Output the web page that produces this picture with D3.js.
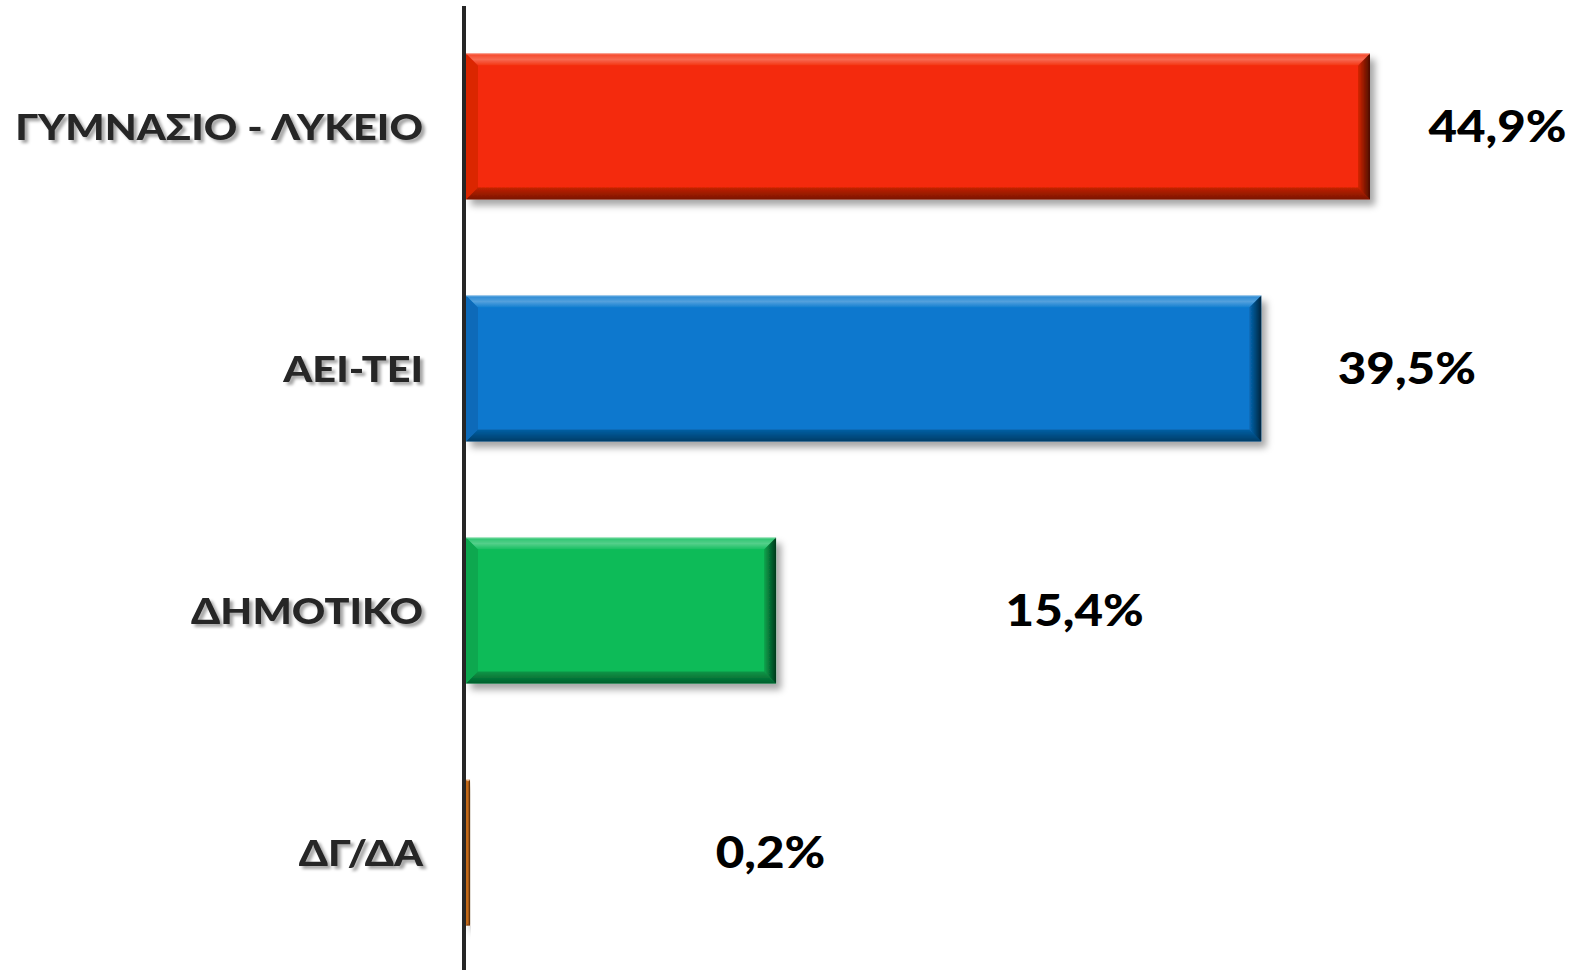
<!DOCTYPE html>
<html><head><meta charset="utf-8">
<script src="https://cdn.jsdelivr.net/npm/d3@7"></script>
<style>html,body{margin:0;padding:0;background:#fff;}svg{display:block;}</style>
</head><body>
<svg id="c" width="1583" height="970"></svg>
<script>
const categories = ["ΓΥΜΝΑΣΙΟ - ΛΥΚΕΙΟ", "ΑΕΙ-ΤΕΙ", "ΔΗΜΟΤΙΚΟ", "ΔΓ/ΔΑ"];
const values = [44.9, 39.5, 15.4, 0.2];
const valueLabels = ["44,9%", "39,5%", "15,4%", "0,2%"];
const barColors = ["#F42A07", "#0878CE", "#0ABB58", "#D9731C"];
const labelAt = [47.8, 43.3, 26.8, 12.4]; // label start, in value units

const W = 1583, H = 970;
const STRETCH = 1.12; // horizontal widening of the text face
const svg = d3.select("#c");
const defs = svg.append("defs");

const sh = defs.append("filter").attr("id","barShadow").attr("x","-10%").attr("y","-20%").attr("width","130%").attr("height","150%");
sh.append("feDropShadow").attr("dx",5).attr("dy",6).attr("stdDeviation",3.5).attr("flood-color","#000").attr("flood-opacity",0.35);

const ts = defs.append("filter").attr("id","txtShadow").attr("x","-5%").attr("y","-30%").attr("width","115%").attr("height","170%");
ts.append("feDropShadow").attr("dx",3).attr("dy",3).attr("stdDeviation",1.6).attr("flood-color","#000").attr("flood-opacity",0.35);

const gr = defs.append("linearGradient").attr("id","gRight").attr("x1",0).attr("x2",1).attr("y1",0).attr("y2",0);
gr.append("stop").attr("offset",0).attr("stop-color","#000").attr("stop-opacity",0.12);
gr.append("stop").attr("offset",1).attr("stop-color","#000").attr("stop-opacity",0.7);
const gt = defs.append("linearGradient").attr("id","gTop").attr("x1",0).attr("x2",0).attr("y1",0).attr("y2",1);
gt.append("stop").attr("offset",0).attr("stop-color","#fff").attr("stop-opacity",0.12);
gt.append("stop").attr("offset",0.5).attr("stop-color","#fff").attr("stop-opacity",0.3);
gt.append("stop").attr("offset",1).attr("stop-color","#fff").attr("stop-opacity",0.05);
const gb = defs.append("linearGradient").attr("id","gBot").attr("x1",0).attr("x2",0).attr("y1",0).attr("y2",1);
gb.append("stop").attr("offset",0).attr("stop-color","#000").attr("stop-opacity",0.2);
gb.append("stop").attr("offset",1).attr("stop-color","#000").attr("stop-opacity",0.5);

const x = d3.scaleLinear().domain([0, 44.9]).range([466, 1370]);
const y = d3.scaleBand().domain(categories).range([5, 974]).paddingInner(0.397).paddingOuter(0.2);

const data = categories.map((c,i)=>({c, v: values[i], lab: valueLabels[i], col: barColors[i], la: labelAt[i]}));

// bars
const bars = svg.append("g").selectAll("g.bar").data(data).join("g").attr("class","bar").attr("filter","url(#barShadow)");
bars.each(function(d){
  const g = d3.select(this);
  const x0 = x(0), x1 = x(d.v), y0 = y(d.c), y1 = y(d.c) + y.bandwidth();
  const w = x1 - x0;
  const b = Math.min(12, w/2);
  g.append("rect").attr("x",x0).attr("y",y0).attr("width",w).attr("height",y1-y0).attr("fill",d.col);
  const poly = pts => pts.map(p=>p.join(",")).join(" ");
  g.append("polygon").attr("points",poly([[x0,y0],[x1,y0],[x1-b,y0+b],[x0+b,y0+b]])).attr("fill","url(#gTop)");
  g.append("polygon").attr("points",poly([[x0,y0],[x0+b,y0+b],[x0+b,y1-b],[x0,y1]])).attr("fill","#000").attr("fill-opacity",0.1);
  g.append("polygon").attr("points",poly([[x1,y0],[x1,y1],[x1-b,y1-b],[x1-b,y0+b]])).attr("fill","url(#gRight)");
  g.append("polygon").attr("points",poly([[x0,y1],[x0+b,y1-b],[x1-b,y1-b],[x1,y1]])).attr("fill","url(#gBot)");
  g.append("line").attr("x1",x0).attr("x2",x1).attr("y1",y0+0.5).attr("y2",y0+0.5).attr("stroke","#fff").attr("stroke-opacity",0.35);
});

// axis line
svg.append("line").attr("x1",x(0)-2).attr("x2",x(0)-2).attr("y1",6).attr("y2",H).attr("stroke","#262626").attr("stroke-width",4);

// category labels
svg.append("g").selectAll("text").data(data).join("text")
  .attr("transform",d=>`translate(423,${y(d.c)+y.bandwidth()/2}) scale(${STRETCH},1)`)
  .attr("dy","0.36em").attr("text-anchor","end")
  .attr("font-family","Lato, 'Open Sans', sans-serif").attr("font-weight",900)
  .attr("font-size",37).attr("fill","#262626").attr("filter","url(#txtShadow)")
  .text(d=>d.c);

// value labels
svg.append("g").selectAll("text").data(data).join("text")
  .attr("transform",d=>`translate(${x(d.la)},${y(d.c)+y.bandwidth()/2}) scale(${STRETCH},1)`)
  .attr("dy","0.36em").attr("text-anchor","start")
  .attr("font-family","Lato, 'Open Sans', sans-serif").attr("font-weight",900)
  .attr("font-size",44).attr("fill","#000")
  .text(d=>d.lab);
</script>
</body></html>
